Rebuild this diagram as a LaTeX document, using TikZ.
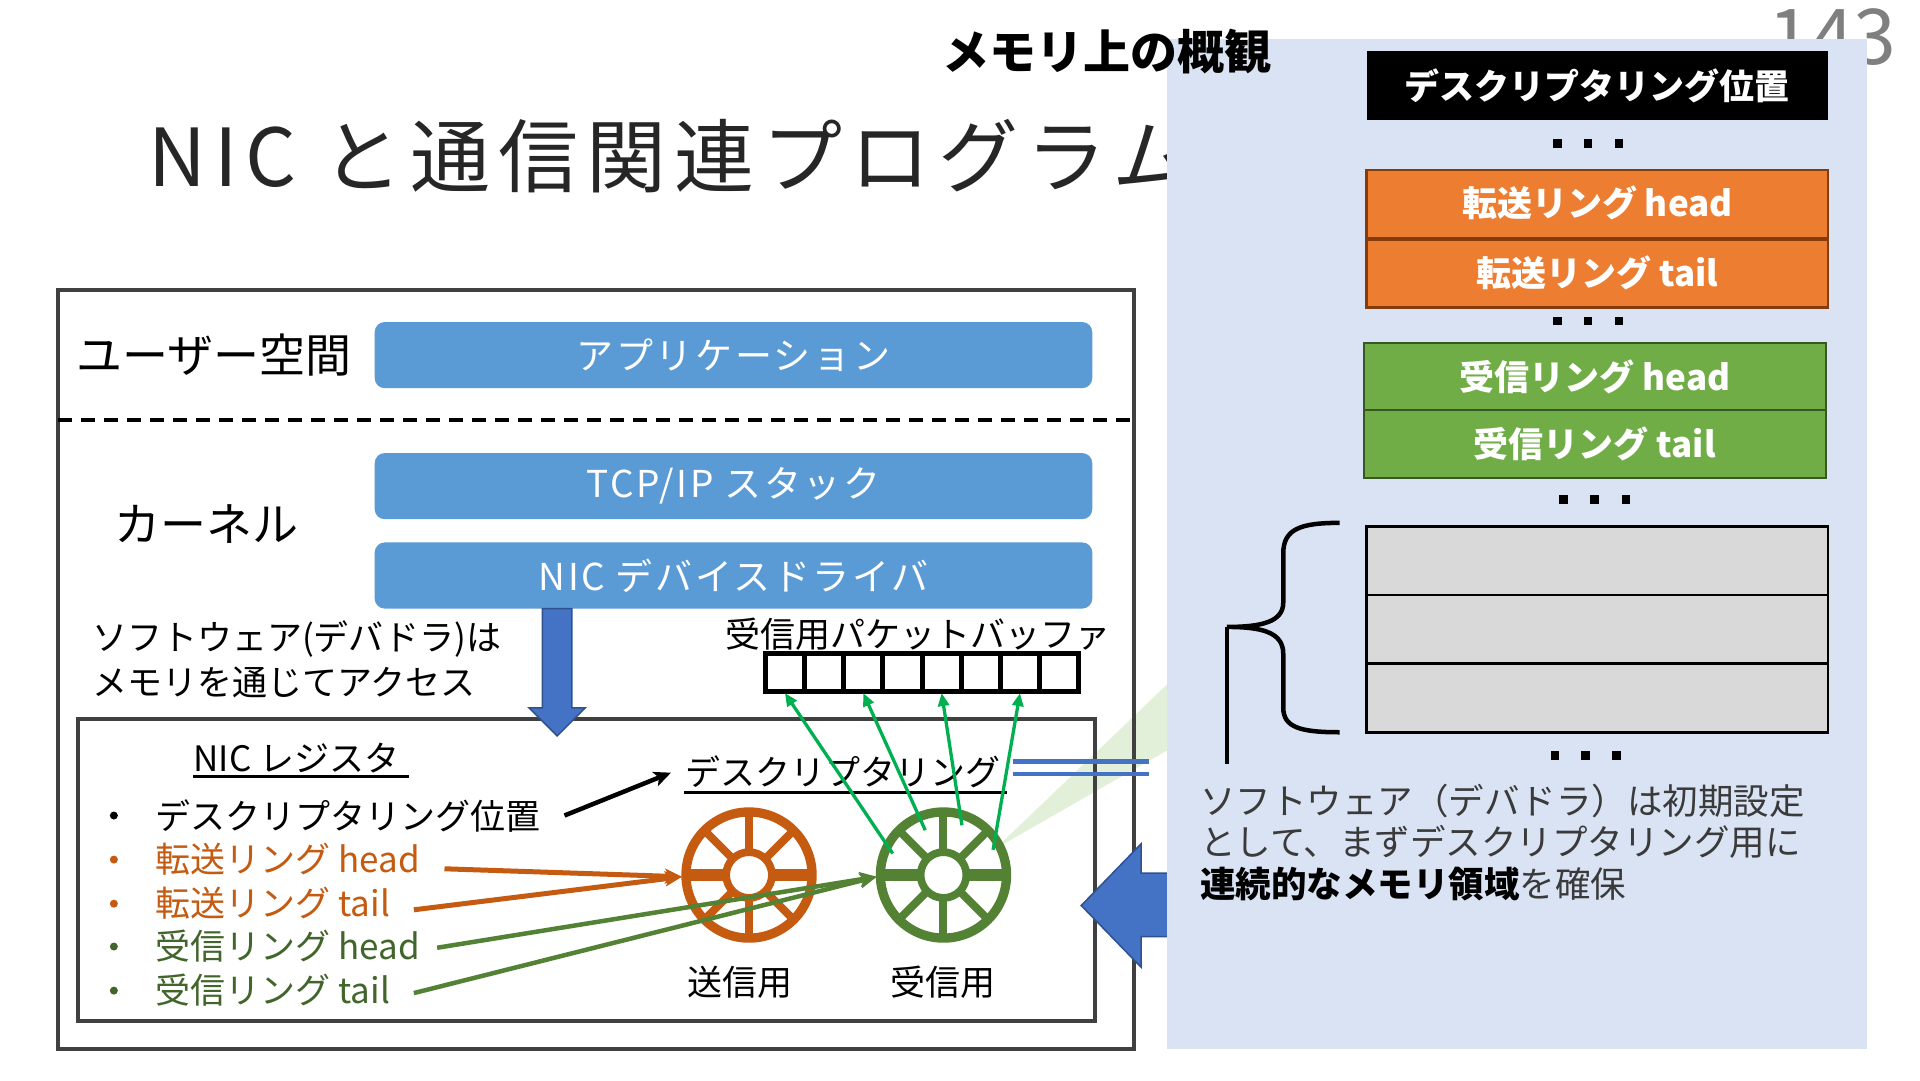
\documentclass[tikz,border=0pt]{standalone}
\usepackage{fontspec}
\setmainfont{Noto Sans CJK JP}
\newfontfamily\ttlfont[LetterSpace=10]{Noto Sans CJK JP}
\newfontfamily\lsfont[LetterSpace=7]{Noto Sans CJK JP}
\usetikzlibrary{arrows.meta}
\definecolor{boxblue}{HTML}{5B9BD5}
\definecolor{arrblue}{HTML}{4472C4}
\definecolor{arrblueline}{HTML}{2F528F}
\definecolor{ornge}{HTML}{C55A11}
\definecolor{grn}{HTML}{548235}
\definecolor{grntxt}{HTML}{41652A}
\definecolor{brightgrn}{HTML}{00B050}
\definecolor{panelc}{HTML}{DAE3F3}
\definecolor{wedgec}{HTML}{E2F0D9}
\definecolor{boxorange}{HTML}{ED7D31}
\definecolor{boxorangeline}{HTML}{843C0C}
\definecolor{boxgreen}{HTML}{70AD47}
\definecolor{boxgreenline}{HTML}{385723}
\definecolor{cellgray}{HTML}{D9D9D9}
\definecolor{framec}{HTML}{404040}
\definecolor{pagenum}{HTML}{7F7F7F}
\definecolor{titlec}{HTML}{262626}
\definecolor{paneltxt}{HTML}{3A3A3A}
\tikzset{
  txt/.style={inner sep=0pt, font=\fontsize{35}{43}\selectfont},
  bigtxt/.style={inner sep=0pt, font=\fontsize{46}{50}\selectfont},
  boxtxt/.style={inner sep=0pt, text=white, font=\lsfont\fontsize{37}{40}\selectfont},
  memtxt/.style={inner sep=0pt, text=white, font=\bfseries\fontsize{35}{40}\selectfont},
  bluebox/.style={fill=boxblue, rounded corners=10pt},
  framebox/.style={draw=framec, line width=4pt},
  blockarrow/.style={fill=arrblue, draw=arrblueline, line width=1.5pt},
  oarrow/.style={draw=ornge, line width=5pt, -{Stealth[length=17pt,width=15pt,inset=4pt]}},
  garrow/.style={draw=grn, line width=4.5pt, -{Stealth[length=17pt,width=15pt,inset=4pt]}},
  karrow/.style={draw=black, line width=4.5pt, -{Stealth[length=17pt,width=15pt,inset=4pt]}},
  barrow/.style={draw=brightgrn, line width=3.3pt, -{Triangle[length=13pt,width=11pt]}},
  bulletdot/.style={circle, inner sep=0pt, minimum size=8pt},
  memdot/.style={fill=black, inner sep=0pt, minimum size=8.5pt},
  wheelpic/.pic={
    \draw[line width=9.3pt] (0,0) circle (51.5);
    \draw[line width=7.7pt] (0,0) circle (18.7);
    \foreach \a in {45,90,135,225,270,315} \draw[line width=8pt] (\a:21) -- (\a:48);
    \draw[line width=11.5pt] (0:21) -- (0:48) (180:21) -- (180:48);
  }
}
\begin{document}
\begin{tikzpicture}[x=1.2245pt,y=-1.2245pt]
\useasboundingbox (0,0) rectangle (1568,882);
\fill[white] (0,0) rectangle (1568,882);

% title and page number (partly hidden by the panel)
\node[anchor=base west, inner sep=0pt, text=titlec, font=\ttlfont\fontsize{80}{84}\selectfont] (title) at (121,152) {NIC と通信関連プログラム};
\node[anchor=base east, inner sep=0pt, text=pagenum, font=\fontsize{77}{80}\selectfont] (pnum) at (1549,53) {143};

% light green wedge
\fill[wedgec] (813,693) -- (1000,514) -- (1000,586) -- cycle;

% frames
\draw[framebox] (47,237) rectangle (926,857);
\coordinate (dashL) at (47,343);
\coordinate (dashR) at (926,343);
\draw[line width=4pt, dash pattern=on 14pt off 9pt] (dashL) -- (dashR);
\draw[framebox] (64,587) rectangle (894,834);

% blue layer boxes
\fill[bluebox] (306,263) rectangle (892,317);
\fill[bluebox] (306,370) rectangle (892,424);
\fill[bluebox] (306,443) rectangle (892,497);
\node[boxtxt] (app) at (599,290) {アプリケーション};
\node[boxtxt] (tcp) at (599,397) {TCP/IP スタック};
\node[boxtxt] (drv) at (599,470) {NIC デバイスドライバ};

\node[bigtxt, anchor=west] (user) at (62,290) {ユーザー空間};
\node[bigtxt, anchor=west] (kern) at (93,428) {カーネル};

% down arrow
\draw[blockarrow] (443,497) -- (467,497) -- (467,578) -- (478,578) -- (455,601) -- (432,578) -- (443,578) -- cycle;

\node[txt, anchor=west] (sw1) at (75,522) {ソフトウェア(デバドラ)は};
\node[txt, anchor=west] (sw2) at (75,557) {メモリを通じてアクセス};

% packet buffer
\node[txt, anchor=west] (buflabel) at (592,518) {受信用パケットバッファ};
\draw[line width=5pt] (625,534) rectangle (881,565);
\foreach \k in {1,...,7} \draw[line width=5pt] ({625+32*\k},534) -- ({625+32*\k},565);
\coordinate (b1) at (641,566);
\coordinate (b2) at (705,566);
\coordinate (b3) at (769,566);
\coordinate (b4) at (833,566);

% NIC register list
\node[txt, anchor=west] (nicreg) at (158,619) {NIC レジスタ};
\draw[line width=2.5pt] (158,634) -- (334,634);
\node[bulletdot, fill=black] (d0) at (93,666) {};
\node[bulletdot, fill=ornge] (d1) at (93,702) {};
\node[bulletdot, fill=ornge] (d2) at (93,738) {};
\node[bulletdot, fill=grntxt] (d3) at (93,773) {};
\node[bulletdot, fill=grntxt] (d4) at (93,809) {};
\node[txt, anchor=west] (r0) at (127,666) {デスクリプタリング位置};
\node[txt, anchor=west, text=ornge] (r1) at (127,702) {転送リング head};
\node[txt, anchor=west, text=ornge] (r2) at (127,738) {転送リング tail};
\node[txt, anchor=west, text=grntxt] (r3) at (127,773) {受信リング head};
\node[txt, anchor=west, text=grntxt] (r4) at (127,809) {受信リング tail};

\node[txt, anchor=west] (ring) at (560,630) {デスクリプタリング};
\draw[line width=2.5pt] (559,647) -- (822,647);

% wheels
\pic[color=ornge] (wo) at (611.7,714.6) {wheelpic};
\pic[color=grn] (wg) at (770.5,714.6) {wheelpic};
\node[txt] (txlabel) at (604,802) {送信用};
\node[txt] (rxlabel) at (770,802) {受信用};

\coordinate (woL) at (557,716);
\coordinate (wgL) at (716,716);
\coordinate (oh) at (363,709.5);
\coordinate (ot) at (338,743);
\coordinate (gh) at (357,774);
\coordinate (gt) at (338,811);
\draw[oarrow] (oh) -- (woL);
\draw[oarrow] (ot) -- (woL);
\draw[garrow] (gh) -- (wgL);
\draw[garrow] (gt) -- (wgL);

\coordinate (ps) at (461,666);
\coordinate (pe) at (548,631);
\draw[karrow] (ps) -- (pe);

% wheel to buffer arrows
\coordinate (g1) at (729,697);
\coordinate (g2) at (755.6,678);
\coordinate (g3) at (785.6,674);
\coordinate (g4) at (811,694);
\draw[barrow] (g1) -- (b1);
\draw[barrow] (g2) -- (b2);
\draw[barrow] (g3) -- (b3);
\draw[barrow] (g4) -- (b4);

% double blue lines
\coordinate (dl1a) at (827,622);
\coordinate (dl1b) at (938,622);
\coordinate (dl2a) at (827,632);
\coordinate (dl2b) at (938,632);
\draw[arrblue, line width=4.5pt] (dl1a) -- (dl1b);
\draw[arrblue, line width=4.5pt] (dl2a) -- (dl2b);

% left block arrow
\draw[blockarrow] (1010,713) -- (932,713) -- (932,689) -- (883,739.5) -- (932,790) -- (932,765) -- (1010,765) -- cycle;

% memory panel
\fill[panelc] (953,32) rectangle (1525,857);
\fill[black] (1116,42) rectangle (1493,98);
\node[memtxt] (descpos) at (1304.5,70) {デスクリプタリング位置};
\draw[fill=boxorange, draw=boxorangeline, line width=2.5pt] (1116,139) rectangle (1493,194.5);
\draw[fill=boxorange, draw=boxorangeline, line width=2.5pt] (1116,195.5) rectangle (1493,251);
\node[memtxt] (txh) at (1304.5,166) {転送リング head};
\node[memtxt] (txt) at (1304.5,223) {転送リング tail};
\draw[fill=boxgreen, draw=boxgreenline, line width=2pt] (1114,280) rectangle (1491,335);
\draw[fill=boxgreen, draw=boxgreenline, line width=2pt] (1114,335) rectangle (1491,390);
\node[memtxt] (rxh) at (1302.5,307.5) {受信リング head};
\node[memtxt] (rxt) at (1302.5,362.5) {受信リング tail};
\draw[fill=cellgray, draw=black, line width=2.5pt] (1116,430) rectangle (1493,486);
\draw[fill=cellgray, draw=black, line width=2.5pt] (1116,486) rectangle (1493,542);
\draw[fill=cellgray, draw=black, line width=2.5pt] (1116,542) rectangle (1493,598);

\foreach \x/\y/\n in {1272/117/a1,1297/117/a2,1322/117/a3,1272/262/b1,1297/262/b2,1322/262/b3,1277/408/c1,1302/408/c2,1328/408/c3,1270/617/e1,1295/617/e2,1320/617/e3}
  \node[memdot] (dot\n) at (\x,\y) {};

% brace
\draw[line width=4.5pt] (1094,427) .. controls (1062,427) and (1048,432) .. (1048,452) -- (1048,492) .. controls (1048,508) and (1030,512) .. (1002,512) .. controls (1030,512) and (1048,516) .. (1048,534) -- (1048,578) .. controls (1048,594) and (1062,598) .. (1094,598);
\coordinate (braceTip) at (1002,512);
\coordinate (braceEnd) at (1002,624);
\draw[line width=4.5pt] (braceTip) -- (braceEnd);

\node[anchor=north west, inner sep=0pt, align=left, text=paneltxt, font=\fontsize{35.5}{41.6}\selectfont] (note) at (980,640) {ソフトウェア（デバドラ）は初期設定\\として、まずデスクリプタリング用に\\{\bfseries\color{black}連続的なメモリ領域}を確保};

\node[inner sep=0pt, font=\bfseries\fontsize{47}{50}\selectfont] (memtitle) at (904,42) {メモリ上の概観};
\end{tikzpicture}
\end{document}
